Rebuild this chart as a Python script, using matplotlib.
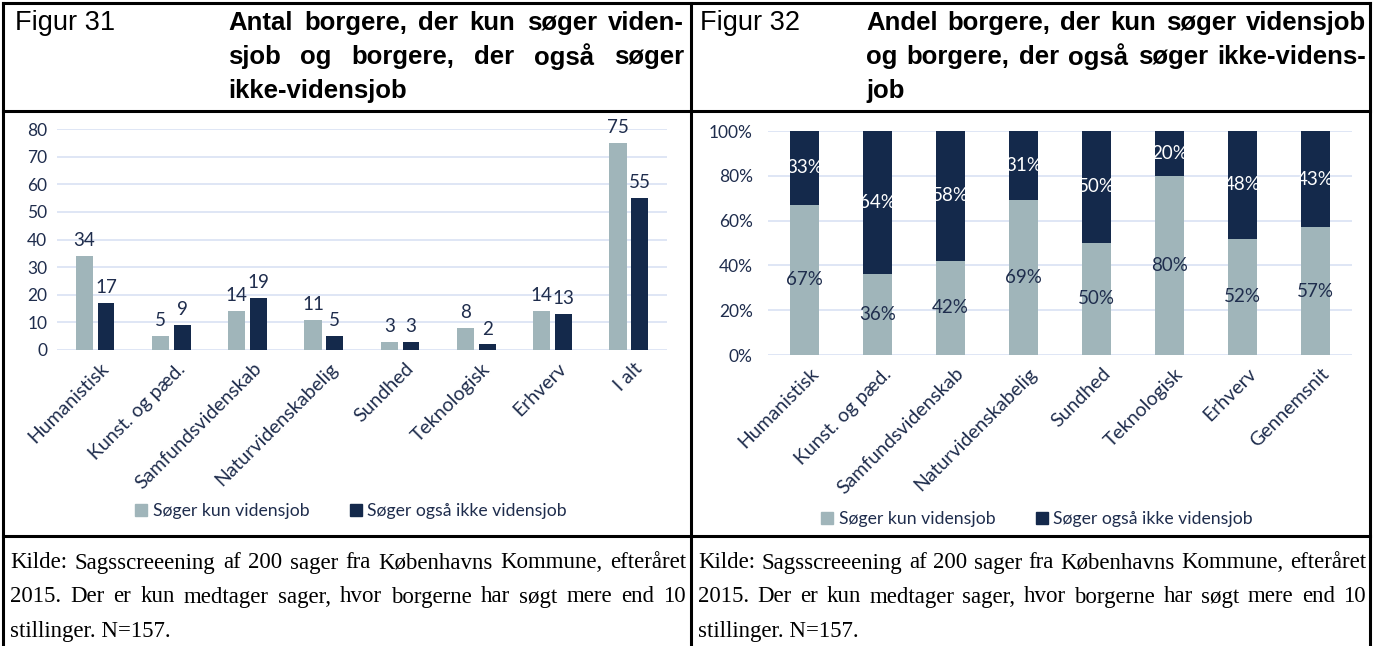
import matplotlib
matplotlib.use("Agg")
import matplotlib.pyplot as plt
from matplotlib.patches import Patch
from matplotlib.transforms import ScaledTranslation
import numpy as np

# data
cats_left = ["Humanistisk", "Kunst. og pæd.", "Samfundsvidenskab", "Naturvidenskabelig",
             "Sundhed", "Teknologisk", "Erhverv", "I alt"]
kun_antal = [34, 5, 14, 11, 3, 8, 14, 75]
ogsaa_antal = [17, 9, 19, 5, 3, 2, 13, 55]

cats_right = ["Humanistisk", "Kunst. og pæd.", "Samfundsvidenskab", "Naturvidenskabelig",
              "Sundhed", "Teknologisk", "Erhverv", "Gennemsnit"]
kun_andel = [67, 36, 42, 69, 50, 80, 52, 57]
ogsaa_andel = [33, 64, 58, 31, 50, 20, 48, 43]

series = ["Søger kun vidensjob", "Søger også ikke vidensjob"]
title_left = ["Antal borgere, der kun søger viden-", "sjob og borgere, der også søger", "ikke-vidensjob"]
title_right = ["Andel borgere, der kun søger vidensjob", "og borgere, der også søger ikke-videns-", "job"]
caption = ["Kilde: Sagsscreeening af 200 sager fra Københavns Kommune, efteråret",
           "2015. Der er kun medtager sager, hvor borgerne har søgt mere end 10",
           "stillinger. N=157."]

LIGHT = "#A0B5BA"
DARK = "#14294B"
TXT = "#1F2D4D"
GRID = "#D9E2F3"

W, H = 1373, 646
fig = plt.figure(figsize=(W / 100, H / 100), dpi=100)
renderer = fig.canvas.get_renderer()


def fx(x):
    return x / W


def fy(y):
    return 1 - y / H


def line(x0, y0, x1, y1):
    fig.add_artist(plt.Line2D([fx(x0), fx(x1)], [fy(y0), fy(y1)], color="black", lw=2.2,
                              transform=fig.transFigure))


def justify(txt, x0, x1, y, **kw):
    words = txt.split(" ")
    objs = [fig.text(0, fy(y), w, va="center", ha="left", **kw) for w in words]
    widths = [o.get_window_extent(renderer).width for o in objs]
    gap = (x1 - x0 - sum(widths)) / (len(words) - 1)
    x = x0
    for o, w in zip(objs, widths):
        o.set_x(fx(x))
        x += w + gap


# frame
line(3, 3, 1370, 3)
line(3, 111, 1370, 111)
line(3, 536, 1370, 536)
line(3, 3, 3, 646)
line(691, 3, 691, 646)
line(1370, 3, 1370, 646)

hfont = dict(family="Liberation Sans", color="black")
fig.text(fx(15), fy(23), "Figur 31", fontsize=19.5, va="center", **hfont)
fig.text(fx(700), fy(23), "Figur 32", fontsize=19.5, va="center", **hfont)
ys = [23, 57, 91]
for i, t in enumerate(title_left):
    if i < 2:
        justify(t, 228, 684, ys[i], fontsize=18.5, fontweight="bold", **hfont)
    else:
        fig.text(fx(228), fy(ys[i]), t, fontsize=18.5, fontweight="bold", va="center", **hfont)
for i, t in enumerate(title_right):
    if i < 2:
        justify(t, 866, 1366, ys[i], fontsize=18.5, fontweight="bold", **hfont)
    else:
        fig.text(fx(866), fy(ys[i]), t, fontsize=18.5, fontweight="bold", va="center", **hfont)

cfont = dict(family="Liberation Serif", color="black", fontsize=16.5)
cys = [563, 597, 631]
for i, t in enumerate(caption):
    if i < 2:
        justify(t, 10, 686, cys[i], **cfont)
        justify(t, 698, 1366, cys[i], **cfont)
    else:
        fig.text(fx(10), fy(cys[i]), t, va="center", **cfont)
        fig.text(fx(698), fy(cys[i]), t, va="center", **cfont)

lfont = "Lato"


def style(ax):
    for s in ax.spines.values():
        s.set_visible(False)
    ax.yaxis.grid(True, color=GRID, lw=1.2)
    ax.set_axisbelow(True)
    ax.tick_params(axis="both", length=0, labelsize=12.5, labelcolor=TXT)
    for lab in ax.get_yticklabels():
        lab.set_fontfamily(lfont)


def xlabels(ax, cats):
    ax.set_xticks(range(len(cats)))
    ax.set_xticklabels([])
    off = ScaledTranslation(11 / 100, -16 / 100, fig.dpi_scale_trans)
    for i, c in enumerate(cats):
        ax.text(i, 0, c, transform=ax.get_xaxis_transform() + off, rotation=45,
                rotation_mode="anchor", ha="right", va="center", fontsize=14,
                color=TXT, family=lfont)


# left chart
ax1 = fig.add_axes([fx(57), fy(350), (667 - 57) / W, (350 - 129) / H])
x = np.arange(len(cats_left))
b1 = ax1.bar(x - 0.143, kun_antal, 0.225, color=LIGHT)
b2 = ax1.bar(x + 0.143, ogsaa_antal, 0.22, color=DARK)
ax1.set_xlim(-0.5, len(cats_left) - 0.5)
ax1.set_ylim(0, 80)
ax1.set_yticks(range(0, 81, 10))
style(ax1)
ax1.tick_params(axis="y", pad=7)
xlabels(ax1, cats_left)
for bars in (b1, b2):
    ax1.bar_label(bars, padding=5, fontsize=13.5, color=TXT, family=lfont)

# right chart
ax2 = fig.add_axes([fx(768), fy(355), (1352 - 768) / W, (355 - 131) / H])
x = np.arange(len(cats_right))
ax2.bar(x, kun_andel, 0.4, color=LIGHT)
ax2.bar(x, ogsaa_andel, 0.4, bottom=kun_andel, color=DARK)
ax2.set_xlim(-0.5, len(cats_right) - 0.5)
ax2.set_ylim(0, 100)
ax2.set_yticks(range(0, 101, 20))
ax2.set_yticklabels([f"{v}%" for v in range(0, 101, 20)])
style(ax2)
ax2.tick_params(axis="y", pad=11)
xlabels(ax2, cats_right)
for i in range(len(cats_right)):
    ax2.text(i, kun_andel[i] / 2, f"{kun_andel[i]}%", ha="center", va="center",
             fontsize=13.5, color=TXT, family=lfont)
    ax2.text(i, kun_andel[i] + ogsaa_andel[i] / 2, f"{ogsaa_andel[i]}%", ha="center",
             va="center", fontsize=13.5, color="white", family=lfont)

handles = [Patch(color=LIGHT, label=series[0]), Patch(color=DARK, label=series[1])]
for cx, cy in [(351, 511), (1037, 519)]:
    leg = fig.legend(handles=handles, loc="center", bbox_to_anchor=(fx(cx), fy(cy)),
                     ncol=2, frameon=False, handlelength=0.7, handleheight=0.7,
                     handletextpad=0.3, columnspacing=2.3,
                     prop={"family": lfont, "size": 12.7})
    for t in leg.get_texts():
        t.set_color(TXT)

fig.savefig("out.png", dpi=100)
